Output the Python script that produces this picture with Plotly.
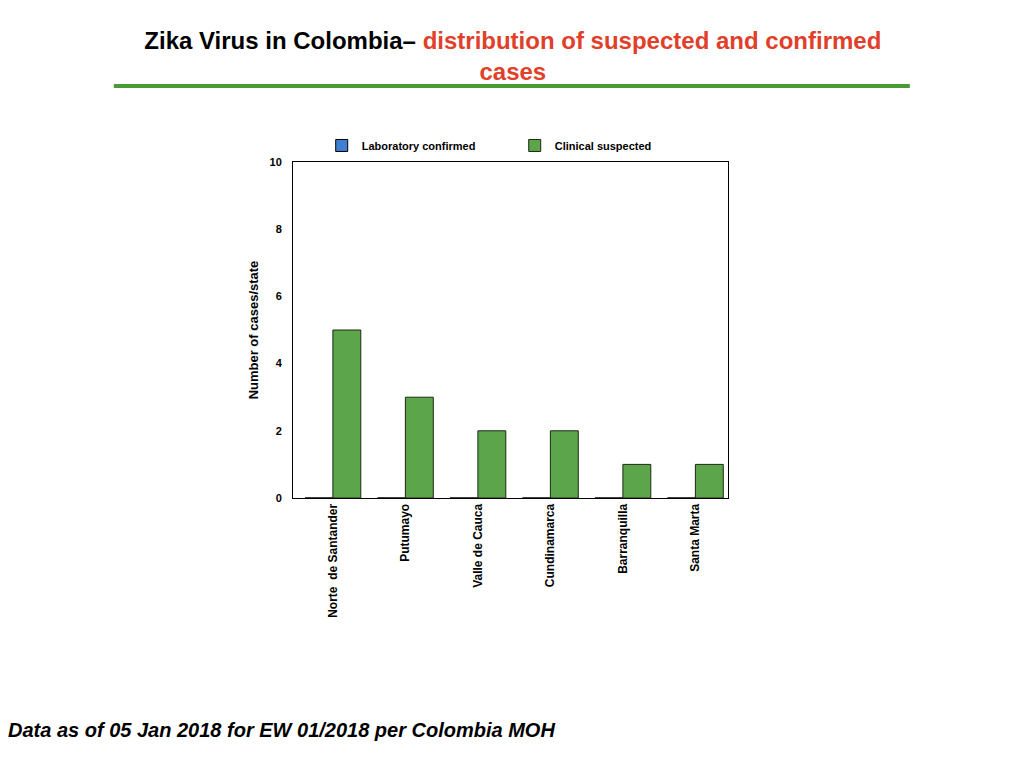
import plotly.graph_objects as go

# cases per state, EW 01/2018
states = ["Norte  de Santander", "Putumayo", "Valle de Cauca", "Cundinamarca",
          "Barranquilla", "Santa Marta"]
lab_confirmed = [0, 0, 0, 0, 0, 0]
clinical_suspected = [5, 3, 2, 2, 1, 1]
y_ticks = [0, 2, 4, 6, 8, 10]

FONT = "Liberation Sans, Arial, sans-serif"

fig = go.Figure()
fig.add_trace(go.Bar(x=states, y=lab_confirmed, name="Laboratory confirmed",
                     marker=dict(color="#3f7fd0", line=dict(color="black", width=1))))
fig.add_trace(go.Bar(x=states, y=clinical_suspected, name="Clinical suspected",
                     marker=dict(color="#5ca54a", line=dict(color="#1a2a14", width=1))))

fig.update_layout(
    width=1024, height=768,
    paper_bgcolor="white", plot_bgcolor="white",
    font=dict(family=FONT, color="black"),
    barmode="group", bargap=0.23, bargroupgap=0,
    margin=dict(l=285, r=304, t=154, b=278),
    showlegend=True,
    legend=dict(orientation="h", x=0.066, y=1.006, xanchor="left", yanchor="bottom",
                bgcolor="rgba(0,0,0,0)",
                font=dict(size=11, family=FONT, weight="bold"),
                entrywidth=148, traceorder="normal"),
    title=dict(
        text="Zika Virus in Colombia\u2013 <span style='color:#e0402a'>distribution of suspected and confirmed</span>"
             "<br><span style='color:#e0402a'>cases</span>",
        x=0.493, xanchor="center", y=0.947, yanchor="top",
        font=dict(size=24, family=FONT, weight="bold", color="black")),
)

fig.update_xaxes(range=[-0.55, 5.45], tickangle=-90, showline=True, linecolor="black",
                 linewidth=1, mirror=True, ticks="", showgrid=False,
                 tickfont=dict(size=12, family=FONT, weight="bold"))
fig.update_yaxes(range=[0, 10], tickvals=y_ticks, showline=True, linecolor="black",
                 linewidth=1, mirror=True, ticks="", showgrid=False, zeroline=False,
                 ticklabelstandoff=8,
                 title=dict(text="Number of cases/state", standoff=7,
                            font=dict(size=13, family=FONT, weight="bold")),
                 tickfont=dict(size=11, family=FONT, weight="bold"))

# green rule under the title
fig.add_shape(type="line", xref="paper", yref="paper", x0=-0.412, x1=1.418, y0=1.226, y1=1.226,
              line=dict(color="#4a9a35", width=4))

fig.add_annotation(text="<i>Data as of 05 Jan 2018 for EW 01/2018 per Colombia MOH</i>",
                   xref="paper", yref="paper", x=-0.66, y=-0.69, xanchor="left", yanchor="middle",
                   showarrow=False, font=dict(size=20, family=FONT, weight="bold", color="black"))

fig.write_html("out.html")
